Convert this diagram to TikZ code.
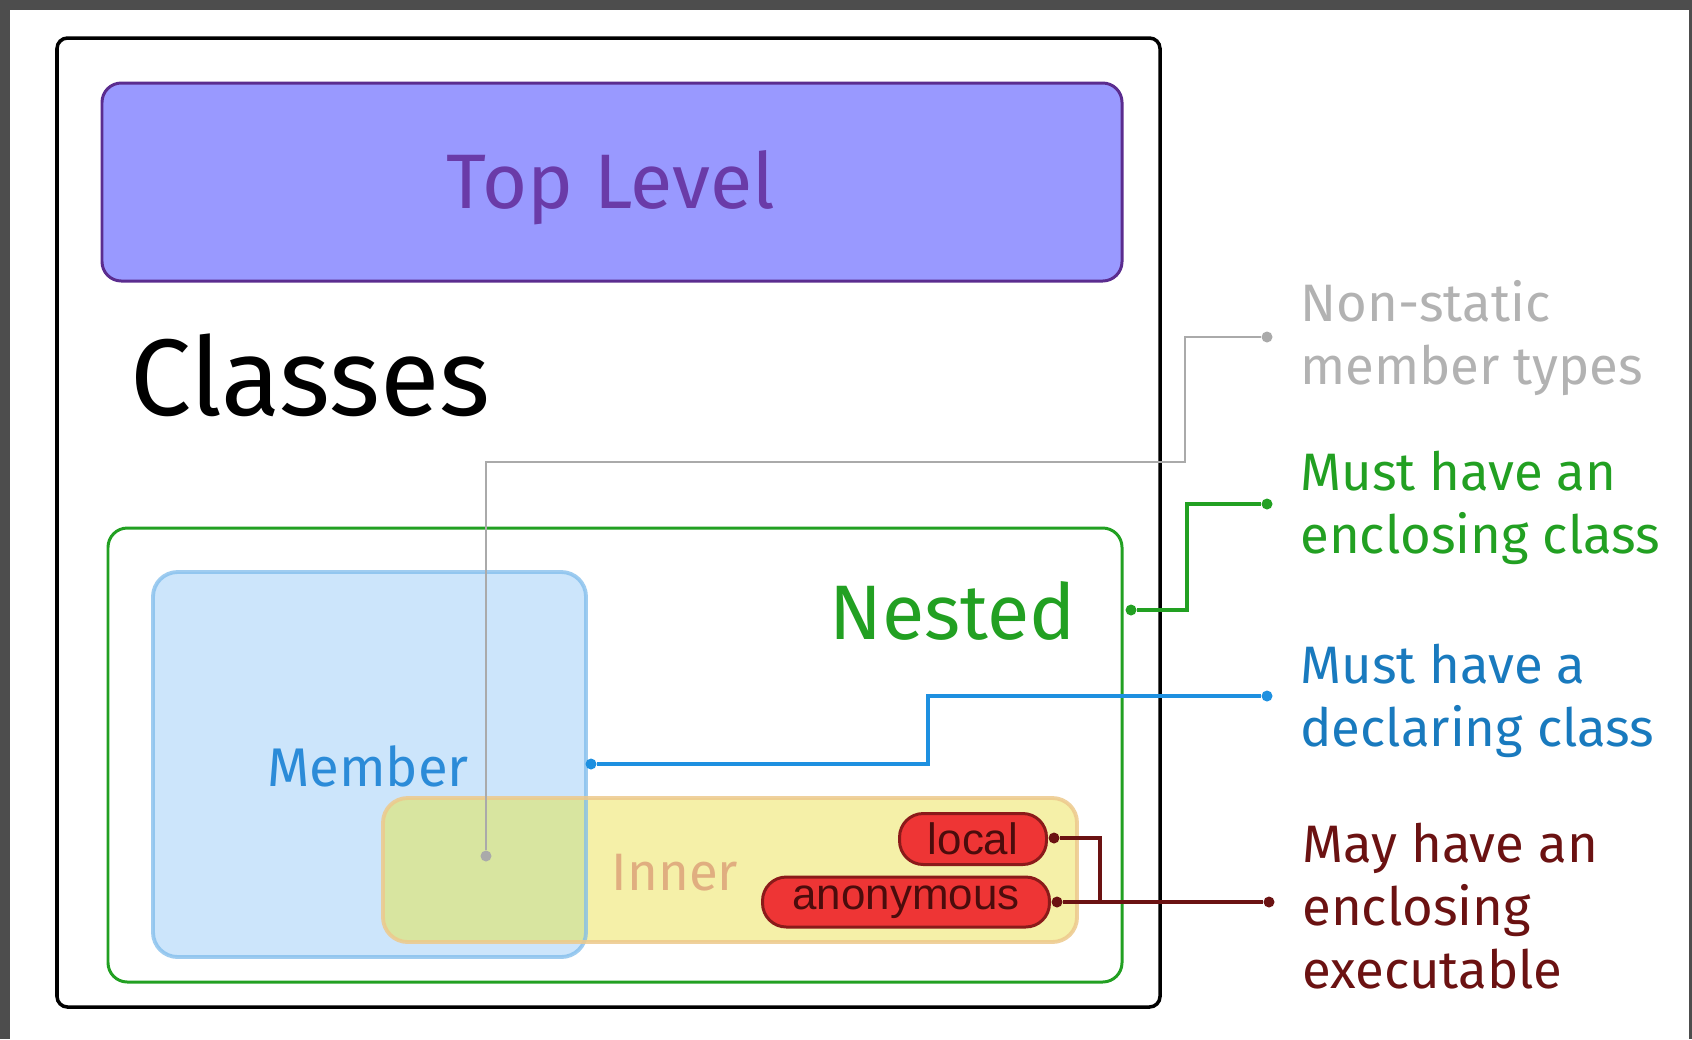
\documentclass[tikz,border=0pt]{standalone}
\usepackage{fontspec}
\setmainfont{Fira Sans}
\newfontfamily\pillfont{Liberation Sans}
\definecolor{framegray}{HTML}{4D4D4D}
\definecolor{topfill}{HTML}{9999FF}
\definecolor{topline}{HTML}{5B2C8F}
\definecolor{toptext}{HTML}{6A3BA8}
\definecolor{nestgreen}{HTML}{22A022}
\definecolor{memfill}{HTML}{CCE5FB}
\definecolor{memline}{HTML}{7FBCEB}
\definecolor{memtext}{HTML}{2B8BD8}
\definecolor{innfill}{HTML}{F5F0A8}
\definecolor{innline}{HTML}{EDC98C}
\definecolor{inntext}{HTML}{E0AE80}
\definecolor{bothfill}{HTML}{D8E5A0}
\definecolor{redfill}{HTML}{EE3535}
\definecolor{redline}{HTML}{8B1A1A}
\definecolor{maroon}{HTML}{6B1212}
\definecolor{lightgray}{HTML}{AAAAAA}
\definecolor{linkblue}{HTML}{1E90E0}
\tikzset{
    box/.style={rounded corners=11pt, line width=1.7pt}
}
\tikzset{
    dot/.style={circle, fill, inner sep=0pt, minimum size=0.22cm}
}
\tikzset{
    tag/.style={rectangle, rounded corners=13.5pt, fill=redfill, draw=redline,
        line width=1.7pt, inner sep=0pt, text=maroon!70!black,
        font=\pillfont\fontsize{25}{25}\selectfont}
}
\tikzset{
    note/.style={anchor=west, align=left, inner sep=0pt,
        font=\fontsize{30}{36}\selectfont}
}

\begin{document}
\begin{tikzpicture}[x=0.02cm, y=-0.02cm]
  \useasboundingbox (0,0) rectangle (1692,1039);
  \fill[framegray] (0,0) rectangle (1692,1039);
  \fill[white] (10,10) rectangle (1689,1039);
  \draw[box, line width=2pt, rounded corners=6pt] (57,38) rectangle (1160,1007);
  \draw[box, fill=topfill, draw=topline] (102,83) rectangle (1122,281);
  \node (top) [anchor=base, text=toptext, font=\fontsize{44}{44}\selectfont] at (611,208) {Top Level};
  \node (cls) [anchor=base west, inner sep=0pt, font=\fontsize{62}{62}\selectfont] at (130,415) {Classes};
  \draw[box, draw=nestgreen, fill=white] (108,528) rectangle (1122,982);
  \node (nest) [anchor=base east, inner sep=0pt, text=nestgreen, font=\fontsize{44}{44}\selectfont] at (1076,639) {Nested};
  \fill[memfill, rounded corners=14pt] (153,572) rectangle (586,957);
  \fill[innfill, rounded corners=14pt] (383,798) rectangle (1077,942);
  \begin{scope}
    \clip[rounded corners=14pt] (153,572) rectangle (586,957);
    \fill[bothfill, rounded corners=14pt] (383,798) rectangle (1077,942);
  \end{scope}
  \draw[memline, line width=2.2pt, draw opacity=0.75, rounded corners=14pt] (153,572) rectangle (586,957);
  \draw[innline, line width=2.2pt, draw opacity=0.85, rounded corners=14pt] (383,798) rectangle (1077,942);
  \node (mem) [anchor=base, text=memtext, font=\fontsize{31}{31}\selectfont] at (368,786) {Member};
  \node (inn) [anchor=base, text=inntext, font=\fontsize{30}{30}\selectfont] at (675,890) {Inner};
  \node (loc) [tag, minimum width=2.94cm, minimum height=1.02cm] at (973,839) {local};
  \node (anon) [tag, minimum width=5.74cm, minimum height=1.0cm] at (906,902) {anonymous};
  \node (g1) [dot, lightgray] at (486,856) {};
  \node (g2) [dot, lightgray] at (1267,337) {};
  \node (n1) [dot, nestgreen] at (1131,610) {};
  \node (n2) [dot, nestgreen] at (1267,504) {};
  \node (m1) [dot, linkblue] at (591,764) {};
  \node (m2) [dot, linkblue] at (1267,696) {};
  \node (l1) [dot, maroon] at (1054,838) {};
  \node (a1) [dot, maroon] at (1057,902) {};
  \node (a2) [dot, maroon] at (1269,902) {};
  \coordinate (join) at (1100,902);
  \draw[lightgray, line width=1.6pt] (g1) |- (1185,462) |- (g2);
  \draw[nestgreen, line width=2pt] (n1) -- ++(56,0) |- (n2);
  \draw[linkblue, line width=2pt] (m1) -- ++(337,0) |- (m2);
  \draw[maroon, line width=2pt] (l1) -| (join);
  \draw[maroon, line width=2pt] (a1) -- (a2);
  \node (t1) [note, text=lightgray!90!white] at (1300,338) {Non-static\\member types};
  \node (t2) [note, text=nestgreen] at (1300,508) {Must have an\\enclosing class};
  \node (t3) [note, text=linkblue!85!black] at (1300,701) {Must have a\\declaring class};
  \node (t4) [note, text=maroon] at (1302,906) {May have an\\enclosing\\executable};
\end{tikzpicture}
\end{document}
